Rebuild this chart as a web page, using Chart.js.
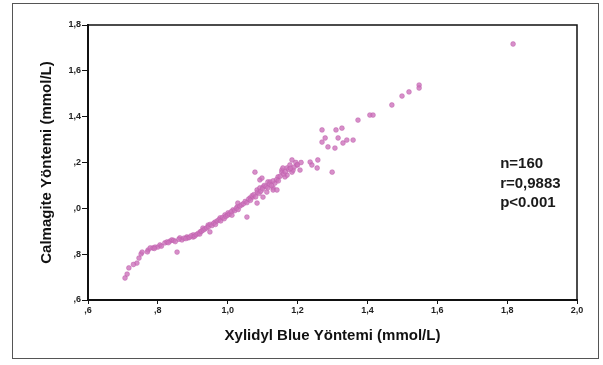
<!DOCTYPE html>
<html>
<head>
<meta charset="utf-8">
<script src="https://cdn.jsdelivr.net/npm/chart.js@4"></script>
<style>
  html, body { margin: 0; padding: 0; background: #fff; width: 603px; height: 365px; overflow: hidden; }
  #frame { position: absolute; left: 12px; top: 3px; width: 587px; height: 356px; border: 1.5px solid #555; box-sizing: border-box; }
  #c { position: absolute; left: 0; top: 0; }
</style>
</head>
<body>
<div id="frame"></div>
<canvas id="c" width="603" height="365"></canvas>
<script>
// ---- data ----
const xylidylBlue = [
  0.706,0.712,0.717,0.740,0.746,0.752,0.755,0.772,0.778,0.786,0.792,0.800,0.806,0.820,0.826,0.835,0.840,0.855,0.863,0.869,
  0.883,0.886,0.901,0.901,0.921,0.929,0.944,0.949,0.964,0.978,0.992,1.001,1.015,1.027,1.029,1.055,1.064,1.072,1.078,1.084,
  1.084,1.092,1.092,1.098,1.101,1.101,1.112,1.115,1.121,1.130,1.130,1.135,1.141,1.144,1.155,1.155,1.158,1.164,1.170,1.170,
  1.178,1.184,1.184,1.187,1.198,1.207,1.236,1.241,1.256,1.258,1.270,1.270,1.279,1.287,1.299,1.307,1.310,1.316,1.327,1.330,
  1.341,1.359,1.373,1.407,1.416,1.470,1.499,1.519,1.548,1.548,1.817,
  0.81,0.83,0.845,0.85,0.86,0.875,0.88,0.89,0.895,0.905,0.91,0.915,0.92,0.925,0.93,0.935,0.94,0.945,0.95,0.955,
  0.96,0.965,0.97,0.975,0.98,0.985,0.99,0.995,1.0,1.005,1.01,1.012,1.02,1.025,1.03,1.035,1.04,1.045,1.05,1.055,
  1.06,1.065,1.07,1.075,1.08,1.085,1.09,1.095,1.1,1.105,1.11,1.115,1.12,1.125,1.13,1.14,1.145,1.15,1.16,1.165,
  1.175,1.18,1.19,1.195,1.2,1.21,0.77,0.79,0.73
];
const calmagite = [
  0.696,0.713,0.740,0.761,0.783,0.801,0.809,0.818,0.827,0.827,0.831,0.831,0.840,0.849,0.853,0.857,0.862,0.809,0.871,0.862,
  0.875,0.871,0.875,0.884,0.897,0.914,0.927,0.897,0.940,0.958,0.971,0.980,0.993,1.006,1.023,0.962,1.045,1.049,1.158,1.080,
  1.023,1.124,1.089,1.132,1.093,1.049,1.071,1.115,1.115,1.089,1.080,1.110,1.080,1.137,1.167,1.158,1.176,1.137,1.176,1.145,
  1.189,1.211,1.158,1.167,1.189,1.167,1.202,1.189,1.176,1.211,1.342,1.289,1.307,1.268,1.158,1.263,1.342,1.307,1.350,1.285,
  1.298,1.298,1.385,1.407,1.407,1.451,1.490,1.508,1.538,1.525,1.717,
  0.835,0.85,0.86,0.855,0.865,0.87,0.868,0.873,0.88,0.878,0.885,0.89,0.888,0.9,0.905,0.91,0.915,0.92,0.93,0.925,
  0.935,0.93,0.945,0.95,0.945,0.96,0.955,0.965,0.97,0.975,0.985,0.97,0.99,1.0,0.995,1.01,1.015,1.02,1.03,1.025,
  1.04,1.035,1.055,1.06,1.05,1.07,1.065,1.075,1.085,1.1,1.095,1.09,1.105,1.1,1.12,1.125,1.12,1.14,1.15,1.16,
  1.17,1.175,1.18,1.2,1.19,1.2,0.81,0.825,0.755
];
const xTickValues = [0.6, 0.8, 1.0, 1.2, 1.4, 1.6, 1.8, 2.0];
const xTickLabels = [",6", ",8", "1,0", "1,2", "1,4", "1,6", "1,8", "2,0"];
const yTickValues = [0.6, 0.8, 1.0, 1.2, 1.4, 1.6, 1.8];
const yTickLabels = [",6", ",8", ",0", ",2", "1,4", "1,6", "1,8"];
const statLines = ["n=160", "r=0,9883", "p<0.001"];
const xTitle = "Xylidyl Blue Yöntemi (mmol/L)";
const yTitle = "Calmagite Yöntemi (mmol/L)";

const points = xylidylBlue.map((x, i) => ({ x: x, y: calmagite[i] }));

const FONT = "'Liberation Sans', Arial, sans-serif";

const boxPlugin = {
  id: 'boxAndStats',
  afterDraw(chart) {
    const ctx = chart.ctx, a = chart.chartArea;
    ctx.save();
    ctx.strokeStyle = '#111';
    ctx.lineWidth = 1.5;
    ctx.beginPath();
    ctx.moveTo(a.left, a.top); ctx.lineTo(a.right, a.top); ctx.lineTo(a.right, a.bottom);
    ctx.stroke();
    const xs = chart.scales.x, ys = chart.scales.y;
    ctx.fillStyle = '#1a1a1a';
    ctx.font = 'bold 15px ' + FONT;
    ctx.textAlign = 'left';
    ctx.textBaseline = 'alphabetic';
    const px = xs.getPixelForValue(1.78);
    const py = ys.getPixelForValue(1.175);
    statLines.forEach((t, i) => ctx.fillText(t, px, py + i * 19.5));
    ctx.restore();
  }
};

new Chart(document.getElementById('c'), {
  type: 'scatter',
  data: {
    datasets: [{
      data: points,
      pointRadius: 2.4,
      pointBackgroundColor: 'rgba(205,115,188,0.8)',
      pointBorderColor: 'rgba(190,95,172,0.85)',
      pointBorderWidth: 0.6
    }]
  },
  options: {
    responsive: false,
    animation: false,
    devicePixelRatio: 1,
    layout: { padding: { left: 0, top: 25, right: 26, bottom: 0 } },
    plugins: { legend: { display: false }, tooltip: { enabled: false } },
    scales: {
      x: {
        type: 'linear', min: 0.6, max: 2.0,
        afterBuildTicks: s => { s.ticks = xTickValues.map(v => ({ value: v })); },
        afterFit: s => { s.height = 65; },
        ticks: {
          callback: (v, i) => xTickLabels[i],
          color: '#222', padding: 1,
          font: { family: FONT, size: 9, weight: 'bold' },
          maxRotation: 0, autoSkip: false
        },
        grid: { drawOnChartArea: false, drawTicks: true, tickLength: 4, color: '#111', lineWidth: 1 },
        border: { color: '#111', width: 2 },
        title: {
          display: true, text: xTitle, color: '#111',
          font: { family: FONT, size: 15, weight: 'bold' },
          padding: { top: 0, bottom: 20 }
        }
      },
      y: {
        type: 'linear', min: 0.6, max: 1.8,
        afterBuildTicks: s => { s.ticks = yTickValues.map(v => ({ value: v })); },
        afterFit: s => { s.width = 88; },
        ticks: {
          callback: (v, i) => yTickLabels[i],
          color: '#222', padding: 1,
          font: { family: FONT, size: 9, weight: 'bold' },
          autoSkip: false
        },
        grid: { drawOnChartArea: false, drawTicks: true, tickLength: 6, color: '#111', lineWidth: 1 },
        border: { color: '#111', width: 2 },
        title: {
          display: true, text: yTitle, color: '#111',
          font: { family: FONT, size: 15, weight: 'bold' },
          padding: { top: 38, bottom: 0 }
        }
      }
    }
  },
  plugins: [boxPlugin]
});
</script>
</body>
</html>
